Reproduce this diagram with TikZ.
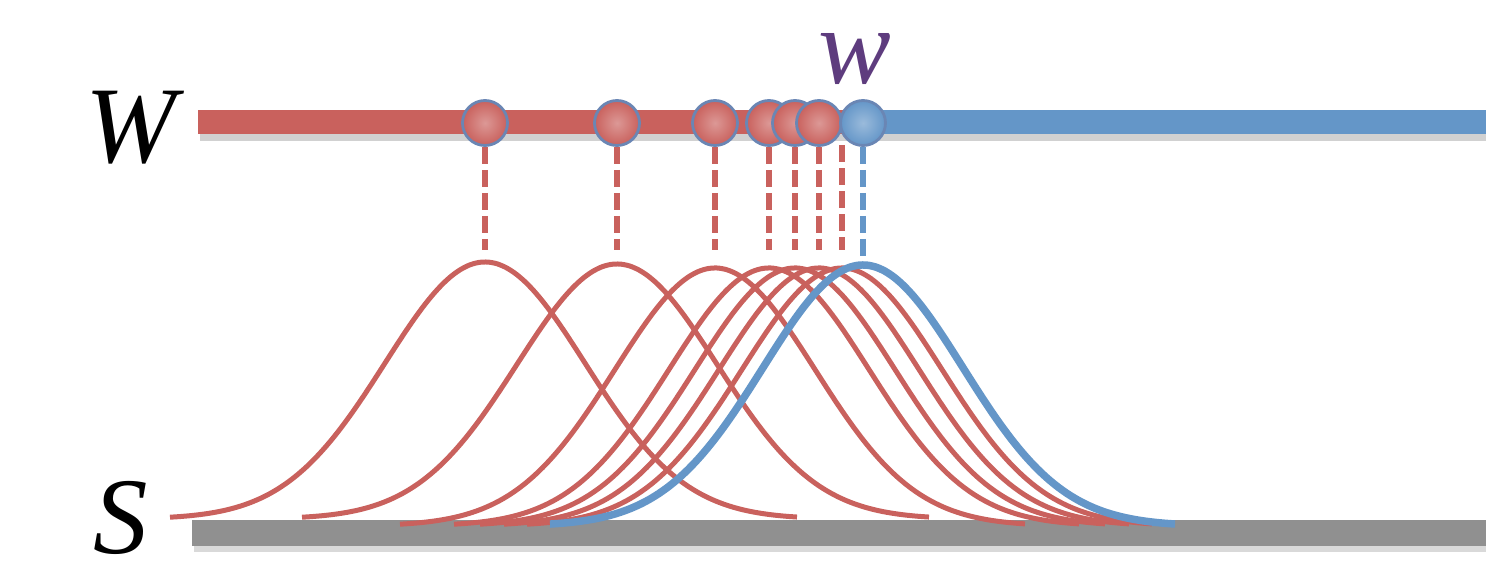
\documentclass[tikz,border=0pt]{standalone}
\usepackage{fontspec}
\newfontfamily\lblfont{Liberation Serif}
\usepackage{tikz}
\usetikzlibrary{calc}

\definecolor{wred}{HTML}{C9615D}
\definecolor{wblue}{HTML}{6496C8}
\definecolor{wgray}{HTML}{909090}
\definecolor{wpurple}{HTML}{5E3C7E}
\definecolor{wrim}{HTML}{6A86B4}

\begin{document}
\begin{tikzpicture}[
  curve/.style={wred, line width=0.05cm},
  bluecurve/.style={wblue, line width=0.075cm},
  drop/.style={wred, line width=0.06cm, dash pattern=on 0.17cm off 0.06cm},
  bluedrop/.style={drop, wblue},
  redball/.style={circle, minimum size=0.45cm, inner sep=0pt, draw=wrim, line width=0.8pt, inner color=wred!65!white, outer color=wred},
  blueball/.style={redball, inner color=wblue!65!white, outer color=wblue},
  lbl/.style={inner sep=0pt, font=\lblfont\fontsize{31}{36}\selectfont\itshape}
]
\useasboundingbox (0,0) rectangle (14.86,5.65);

% shadows under the two bars
\draw[black, opacity=0.18, line width=0.24cm] (2.0,4.36) -- (14.86,4.36);
\draw[black, opacity=0.15, line width=0.26cm] (1.94,0.26) -- (14.86,0.26);

% bar S
\draw[wgray, line width=0.26cm] (1.92,0.32) -- (14.86,0.32);

% peaks of the curves
\coordinate (t1) at (4.85,3.15);
\coordinate (t2) at (6.17,3.15);
\coordinate (t3) at (7.15,3.15);
\coordinate (t4) at (7.69,3.15);
\coordinate (t5) at (7.95,3.15);
\coordinate (t6) at (8.19,3.15);
\coordinate (t7) at (8.42,3.15);
\coordinate (tw) at (8.63,3.00);

% curves
\draw[curve] plot[domain=-3.15:3.12, samples=70, smooth] ({4.85+\x},{0.46+2.57*exp(-\x*\x/2)});
\draw[curve] plot[domain=-3.15:3.12, samples=70, smooth] ({6.17+\x},{0.46+2.55*exp(-\x*\x/2)});
\draw[curve] plot[domain=-3.15:3.10, samples=70, smooth] ({7.15+\x},{0.39+2.58*exp(-\x*\x/2)});
\draw[curve] plot[domain=-3.15:3.10, samples=70, smooth] ({7.69+\x},{0.39+2.58*exp(-\x*\x/2)});
\draw[curve] plot[domain=-3.15:3.10, samples=70, smooth] ({7.95+\x},{0.39+2.58*exp(-\x*\x/2)});
\draw[curve] plot[domain=-3.15:3.10, samples=70, smooth] ({8.19+\x},{0.39+2.58*exp(-\x*\x/2)});
\draw[curve] plot[domain=-3.15:3.10, samples=70, smooth] ({8.42+\x},{0.39+2.58*exp(-\x*\x/2)});
\draw[bluecurve] plot[domain=-3.13:3.12, samples=70, smooth] ({8.63+\x},{0.39+2.61*exp(-\x*\x/2)});

% bar W
\draw[wred, line width=0.24cm] (1.98,4.43) -- (8.6,4.43);
\draw[wblue, line width=0.24cm] (8.6,4.43) -- (14.86,4.43);

% balls on W
\node[redball] (r1) at (4.85,4.42) {};
\node[redball] (r2) at (6.17,4.42) {};
\node[redball] (r3) at (7.15,4.42) {};
\coordinate (r7) at (8.42,4.2);
\node[redball] (r4) at (7.69,4.42) {};
\node[redball] (r5) at (7.95,4.42) {};
\node[redball] (r6) at (8.19,4.42) {};
\node[blueball] (wb) at (8.63,4.42) {};

% drop lines
\draw[drop] (r1.south) -- (t1);
\draw[drop] (r2.south) -- (t2);
\draw[drop] (r3.south) -- (t3);
\draw[drop] (r4.south) -- (t4);
\draw[drop] (r5.south) -- (t5);
\draw[drop] (r6.south) -- (t6);
\draw[drop] (r7) -- (t7);
\draw[bluedrop] (wb.south) -- (tw);

% labels
\node[lbl] (lW) at (1.31,4.37) {W};
\node[lbl] (lS) at (1.21,0.47) {S};
\node[lbl, wpurple] (lw) at (8.55,5.06) {w};
\end{tikzpicture}
\end{document}
